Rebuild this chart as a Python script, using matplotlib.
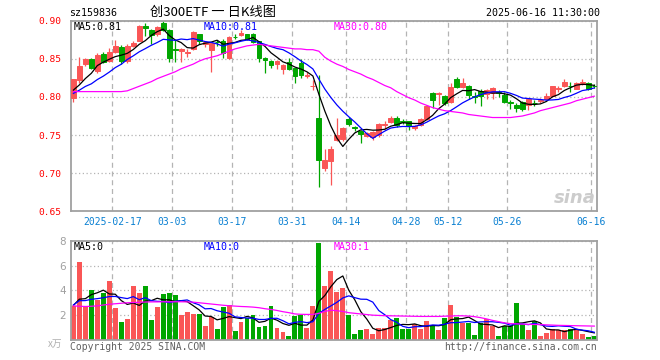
import matplotlib
matplotlib.use("Agg")
import matplotlib.pyplot as plt
import numpy as np
import pandas as pd

# daily candles, 2025-02-06 .. 2025-06-16
opens = [0.798, 0.822, 0.843, 0.850, 0.834, 0.856, 0.847, 0.8595, 0.866, 0.847,
         0.867, 0.874, 0.893, 0.888, 0.882, 0.897, 0.888, 0.863, 0.860, 0.858,
         0.8635, 0.882, 0.869, 0.862, 0.8722, 0.874, 0.851, 0.879, 0.881, 0.882,
         0.882, 0.873, 0.851, 0.847, 0.843, 0.8366, 0.846, 0.8375, 0.844, 0.828,
         0.814, 0.772, 0.7065, 0.716, 0.7435, 0.745, 0.771, 0.760, 0.755, 0.749,
         0.747, 0.750, 0.763, 0.767, 0.773, 0.768, 0.768, 0.759, 0.763, 0.771,
         0.805, 0.804, 0.801, 0.793, 0.823, 0.813, 0.815, 0.801, 0.808, 0.804,
         0.805, 0.806, 0.802, 0.793, 0.790, 0.794, 0.789, 0.7926, 0.795, 0.797,
         0.801, 0.811, 0.8144, 0.815, 0.811, 0.818, 0.818, 0.8145]
highs = [0.824, 0.853, 0.851, 0.851, 0.857, 0.859, 0.864, 0.8747, 0.868, 0.869,
         0.873, 0.894, 0.897, 0.889, 0.893, 0.899, 0.889, 0.8747, 0.864, 0.863,
         0.887, 0.883, 0.873, 0.871, 0.875, 0.876, 0.880, 0.882, 0.888, 0.883,
         0.884, 0.874, 0.852, 0.849, 0.848, 0.843, 0.851, 0.838, 0.8497, 0.833,
         0.822, 0.829, 0.732, 0.736, 0.772, 0.760, 0.774, 0.762, 0.757, 0.7545,
         0.755, 0.766, 0.768, 0.775, 0.775, 0.771, 0.769, 0.763, 0.772, 0.789,
         0.807, 0.806, 0.802, 0.818, 0.826, 0.8245, 0.816, 0.807, 0.811, 0.811,
         0.813, 0.809, 0.807, 0.796, 0.792, 0.795, 0.797, 0.796, 0.799, 0.8048,
         0.815, 0.814, 0.824, 0.820, 0.820, 0.823, 0.820, 0.817]
lows = [0.794, 0.818, 0.840, 0.836, 0.832, 0.845, 0.846, 0.857, 0.843, 0.844,
        0.866, 0.873, 0.880, 0.870, 0.880, 0.886, 0.846, 0.846, 0.846, 0.853,
        0.862, 0.869, 0.866, 0.833, 0.867, 0.851, 0.850, 0.876, 0.880, 0.875,
        0.871, 0.846, 0.832, 0.838, 0.837, 0.830, 0.835, 0.818, 0.8244, 0.825,
        0.809, 0.6823, 0.703, 0.685, 0.742, 0.742, 0.762, 0.755, 0.740, 0.748,
        0.744, 0.748, 0.758, 0.766, 0.761, 0.764, 0.757, 0.757, 0.762, 0.770,
        0.785, 0.790, 0.789, 0.792, 0.812, 0.812, 0.797, 0.7925, 0.788, 0.797,
        0.797, 0.800, 0.7915, 0.784, 0.780, 0.781, 0.783, 0.788, 0.792, 0.796,
        0.800, 0.806, 0.813, 0.806, 0.810, 0.816, 0.809, 0.812]
closes = [0.8235, 0.840, 0.8497, 0.8375, 0.855, 0.846, 0.859, 0.867, 0.847, 0.867,
          0.871, 0.893, 0.891, 0.881, 0.892, 0.888, 0.851, 0.862, 0.8635, 0.859,
          0.8847, 0.8734, 0.872, 0.8703, 0.8718, 0.858, 0.879, 0.8785, 0.884, 0.876,
          0.8725, 0.851, 0.848, 0.842, 0.847, 0.842, 0.837, 0.828, 0.829, 0.829,
          0.8144, 0.717, 0.7173, 0.732, 0.750, 0.759, 0.764, 0.759, 0.752, 0.753,
          0.754, 0.765, 0.764, 0.772, 0.763, 0.767, 0.762, 0.762, 0.7715, 0.788,
          0.796, 0.805, 0.7925, 0.8135, 0.813, 0.8187, 0.803, 0.800, 0.801, 0.809,
          0.812, 0.805, 0.7935, 0.7925, 0.785, 0.784, 0.797, 0.7923, 0.796, 0.801,
          0.8144, 0.8115, 0.8196, 0.814, 0.818, 0.8196, 0.810, 0.814]
volumes = [2.75, 6.3, 2.7, 4.04, 3.24, 3.8, 4.76, 2.6, 1.47, 1.7,
           4.36, 3.8, 4.36, 1.63, 2.67, 3.72, 3.8, 3.64, 2.03, 2.27,
           2.1, 2.1, 1.15, 1.87, 0.9, 2.67, 2.83, 0.75, 1.47, 1.8,
           2.03, 1.07, 1.15, 2.75, 1.0, 0.67, 0.35, 1.95, 2.03, 1.0,
           2.75, 7.8, 4.36, 5.56, 3.88, 4.2, 2.02, 0.5, 0.82, 0.9,
           0.5, 1.0, 1.0, 1.6, 1.78, 0.9, 0.9, 1.3, 0.9, 1.54,
           1.2, 0.8, 1.8, 2.83, 1.86, 1.34, 1.4, 0.42, 1.4, 1.7,
           1.14, 0.34, 1.14, 1.14, 3.0, 1.26, 0.82, 1.5, 0.3, 0.56,
           0.9, 0.8, 0.8, 0.9, 0.9, 0.48, 0.28, 0.32]

# MA30 lines as drawn (they depend on history before the window)
ma30_price = [0.807, 0.807, 0.807, 0.807, 0.807, 0.807, 0.807, 0.807, 0.807, 0.808,
              0.811, 0.814, 0.817, 0.820, 0.824, 0.827, 0.830, 0.833, 0.837, 0.840,
              0.843, 0.847, 0.850, 0.852, 0.854, 0.857, 0.860, 0.863, 0.865, 0.867,
              0.868, 0.869, 0.868, 0.867, 0.866, 0.865, 0.864, 0.863, 0.863, 0.862,
              0.862, 0.860, 0.852, 0.847, 0.843, 0.840, 0.836, 0.833, 0.830, 0.826,
              0.823, 0.819, 0.815, 0.812, 0.807, 0.803, 0.799, 0.796, 0.792, 0.789,
              0.786, 0.784, 0.782, 0.781, 0.780, 0.779, 0.777, 0.776, 0.775, 0.774,
              0.773, 0.773, 0.773, 0.773, 0.774, 0.775, 0.777, 0.779, 0.782, 0.784,
              0.786, 0.788, 0.790, 0.792, 0.795, 0.797, 0.799, 0.801]
ma30_volume = [2.75, 2.72, 2.70, 2.72, 2.75, 2.82, 2.88, 2.92, 2.96, 3.0,
               3.02, 3.04, 3.06, 3.07, 3.07, 3.08, 3.08, 3.08, 3.08, 3.07,
               3.05, 3.0, 2.95, 2.9, 2.85, 2.8, 2.76, 2.73, 2.7, 2.68,
               2.65, 2.6, 2.52, 2.46, 2.38, 2.28, 2.2, 2.1, 2.07, 2.06,
               2.06, 2.15, 2.3, 2.4, 2.36, 2.3, 2.2, 2.15, 2.1, 2.05,
               2.0, 1.98, 1.96, 1.95, 1.94, 1.93, 1.92, 1.91, 1.9, 1.9,
               1.9, 1.9, 1.92, 1.93, 1.95, 1.95, 1.93, 1.88, 1.8, 1.7,
               1.58, 1.48, 1.38, 1.32, 1.3, 1.28, 1.26, 1.25, 1.24, 1.22,
               1.2, 1.18, 1.17, 1.16, 1.15, 1.14, 1.13, 1.12]

# estimated sessions just before the window, so MA5/MA10 start where drawn
pre_close = [0.798, 0.801, 0.803, 0.799, 0.801, 0.806, 0.808, 0.803, 0.8045]
pre_volume = [2.9, 2.6, 3.0, 2.7, 3.1, 3.8, 2.5, 2.4, 2.5]

holidays = ["2025-04-04", "2025-05-01", "2025-05-02", "2025-05-05", "2025-06-02"]
tick_dates = ["2025-02-17", "2025-03-03", "2025-03-17", "2025-03-31", "2025-04-14",
              "2025-04-28", "2025-05-12", "2025-05-26", "2025-06-16"]
tick_labels = ["2025-02-17", "03-03", "03-17", "03-31", "04-14",
               "04-28", "05-12", "05-26", "06-16"]

days = pd.bdate_range("2025-02-06", "2025-06-16")
days = days[~days.isin(pd.to_datetime(holidays))]
x = np.arange(len(days))
tick_pos = [days.get_loc(pd.Timestamp(d)) - 0.5 for d in tick_dates]

n_pre = len(pre_close)
c_all = pd.Series(pre_close + closes)
v_all = pd.Series(pre_volume + volumes)
ma5 = c_all.rolling(5).mean().values[n_pre:]
ma10 = c_all.rolling(10).mean().values[n_pre:]
vma5 = v_all.rolling(5).mean().values[n_pre:]
vma10 = v_all.rolling(10).mean().values[n_pre:]

o = np.array(opens)
c = np.array(closes)
up = c >= o
RED = "#fa5656"
GREEN = "#00a600"
cols = np.where(up, RED, GREEN)
MONO = "DejaVu Sans Mono"
GRID = "#b4b4b4"
SPINE = "#a0a0a0"

W, H = 660, 360


def fx(px):
    return px / W


def fy(py):
    return 1 - py / H


fig = plt.figure(figsize=(6.6, 3.6), dpi=100)
ax1 = fig.add_axes([fx(70.7), fy(211.3), (597 - 70.7) / W, (211.3 - 20.7) / H])
ax2 = fig.add_axes([fx(70.7), fy(340), (597 - 70.7) / W, (340 - 240.7) / H])

for ax in (ax1, ax2):
    ax.set_xlim(-0.45, len(x) - 0.55)
    ax.set_axisbelow(True)
    for s in ax.spines.values():
        s.set_color(SPINE)
        s.set_linewidth(1.3)
    ax.tick_params(length=0)
    ax.set_xticks(tick_pos)
    ax.grid(axis="x", color=GRID, linestyle=(0, (4, 3)), linewidth=0.9)
    ax.grid(axis="y", color=GRID, linestyle=(0, (1, 2)), linewidth=0.9)

# candles
ax1.vlines(x, lows, highs, colors=cols, linewidth=0.9, zorder=2)
ax1.bar(x, np.abs(c - o), bottom=np.minimum(o, c), width=0.8, color=cols,
        edgecolor=cols, linewidth=0.7, zorder=3)
ax1.plot(x, ma5, color="black", linewidth=0.9, zorder=4)
ax1.plot(x, ma10, color="#0000ff", linewidth=0.9, zorder=4)
ax1.plot(x, ma30_price, color="#ff00ff", linewidth=0.9, zorder=4)
ax1.set_ylim(0.65, 0.90)
yt = [0.65, 0.70, 0.75, 0.80, 0.85, 0.90]
ax1.set_yticks(yt)
ax1.set_yticklabels([f"{v:.2f}" for v in yt], color="red", fontfamily=MONO, fontsize=6.8)
ax1.tick_params(axis="y", pad=6.5)
ax1.set_xticklabels(tick_labels, color="#0a80d2", fontfamily=MONO, fontsize=7)
ax1.tick_params(axis="x", pad=4)

# volume
ax2.bar(x, volumes, width=0.82, color=cols, linewidth=0, zorder=2)
ax2.plot(x, vma5, color="black", linewidth=0.9, zorder=4)
ax2.plot(x, vma10, color="#0000ff", linewidth=0.9, zorder=4)
ax2.plot(x, ma30_volume, color="#ff00ff", linewidth=0.9, zorder=4)
ax2.set_ylim(0, 8)
ax2.set_yticks([0, 2, 4, 6, 8])
ax2.set_yticklabels(["", "2", "4", "6", "8"], color="#a0a0a0", fontsize=7.5)
ax2.tick_params(axis="y", pad=3.5)
ax2.set_xticklabels([])

# header texts
fig.text(fx(69), fy(12.5), "sz159836", fontfamily=MONO, fontsize=7.2, va="center")
fig.text(fx(150), fy(12.5), "创300ETF 一 日K线图", family=["Noto Sans CJK SC", "DejaVu Sans"],
         fontsize=9.5, va="center")
fig.text(fx(600), fy(12.5), "2025-06-16 11:30:00", fontfamily=MONO, fontsize=7.2,
         va="center", ha="right")

# MA legends
fig.text(fx(74), fy(26.5), "MA5:0.81", fontfamily=MONO, fontsize=7.2, va="center", color="black")
fig.text(fx(204), fy(26.5), "MA10:0.81", fontfamily=MONO, fontsize=7.2, va="center", color="#0000ff")
fig.text(fx(334), fy(26.5), "MA30:0.80", fontfamily=MONO, fontsize=7.2, va="center", color="#ff00ff")
fig.text(fx(74), fy(246.5), "MA5:0", fontfamily=MONO, fontsize=7.2, va="center", color="black")
fig.text(fx(204), fy(246.5), "MA10:0", fontfamily=MONO, fontsize=7.2, va="center", color="#0000ff")
fig.text(fx(334), fy(246.5), "MA30:1", fontfamily=MONO, fontsize=7.2, va="center", color="#ff00ff")

# watermark
fig.text(fx(575), fy(198), "sina", fontsize=13, fontweight="bold", style="italic",
         color="#cccccc", ha="center", va="center")

# footer
fig.text(fx(48), fy(344), "x万", family=["Noto Sans CJK SC", "DejaVu Sans"], fontsize=7,
         color="#b0b0b0", va="center")
fig.text(fx(70), fy(347), "Copyright 2025 SINA.COM", fontfamily=MONO, fontsize=7,
         color="#606060", va="center")
fig.text(fx(597), fy(347), "http://finance.sina.com.cn", fontfamily=MONO, fontsize=7,
         color="#606060", va="center", ha="right")

fig.savefig("out.png", dpi=100)
